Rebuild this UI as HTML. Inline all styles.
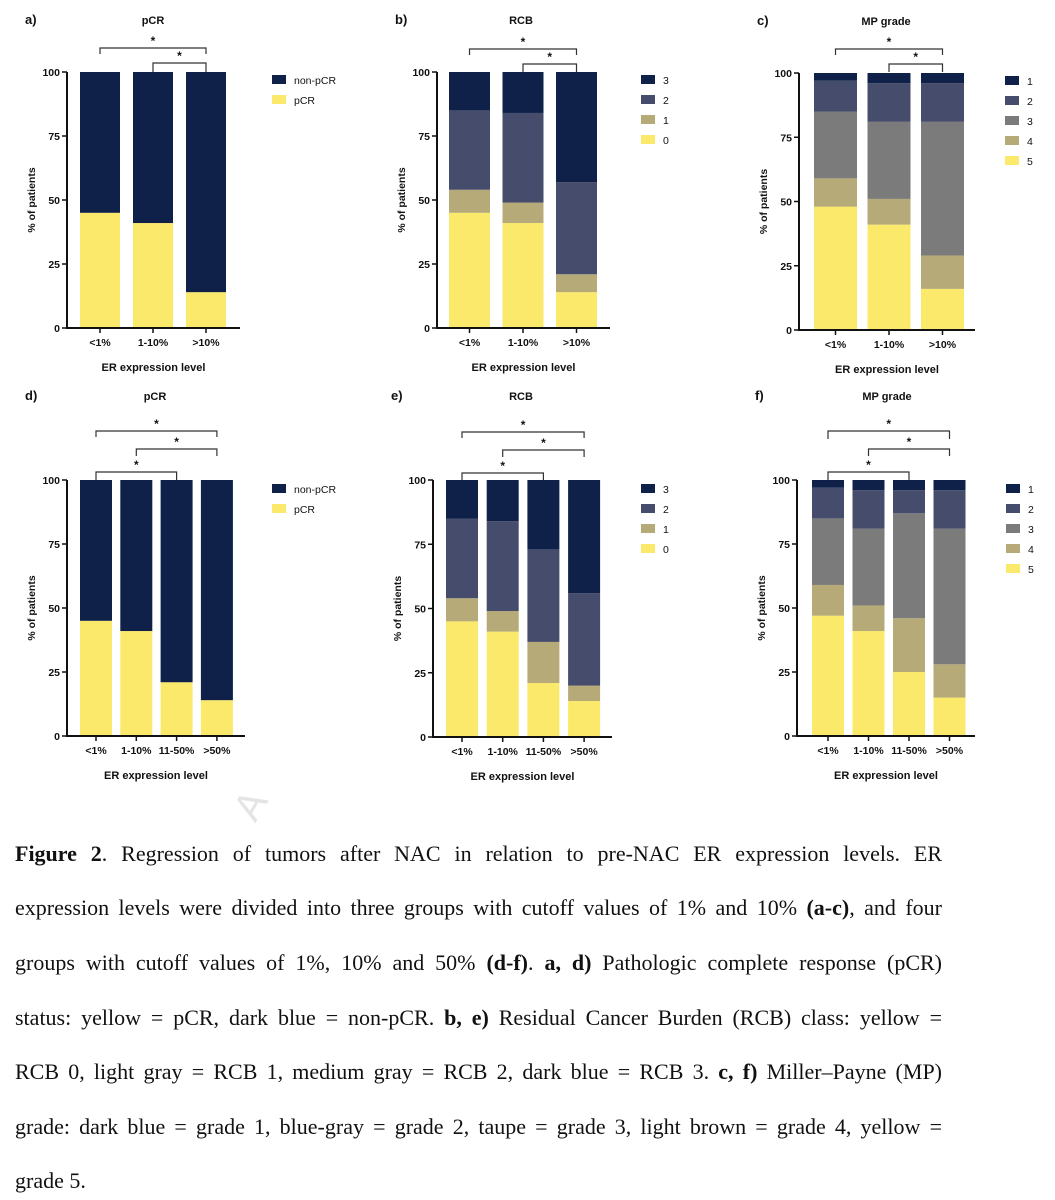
<!DOCTYPE html>
<html><head><meta charset="utf-8">
<style>
body{margin:0;width:1055px;height:1200px;background:#fff;overflow:hidden;position:relative;font-family:"Liberation Sans",sans-serif}
svg{position:absolute;left:0;top:0}
.cap{position:absolute;left:15px;width:927px;font-family:"Liberation Serif",serif;font-size:22px;color:#111;text-align:justify;text-align-last:justify;white-space:nowrap;line-height:26px}
.cap.last{text-align-last:left}
</style></head><body>
<svg id="fig" width="1055" height="1200"></svg>
<div>
<div class="cap" style="top:841px;white-space:normal"><b>Figure 2</b>. Regression of tumors after NAC in relation to pre-NAC ER expression levels. ER</div>
<div class="cap" style="top:895px;white-space:normal">expression levels were divided into three groups with cutoff values of 1% and 10% <b>(a-c)</b>, and four</div>
<div class="cap" style="top:950px;white-space:normal">groups with cutoff values of 1%, 10% and 50% <b>(d-f)</b>. <b>a, d)</b> Pathologic complete response (pCR)</div>
<div class="cap" style="top:1005px;white-space:normal">status: yellow = pCR, dark blue = non-pCR. <b>b, e)</b> Residual Cancer Burden (RCB) class: yellow =</div>
<div class="cap" style="top:1059px;white-space:normal">RCB 0, light gray = RCB 1, medium gray = RCB 2, dark blue = RCB 3. <b>c, f)</b> Miller–Payne (MP)</div>
<div class="cap" style="top:1114px;white-space:normal">grade: dark blue = grade 1, blue-gray = grade 2, taupe = grade 3, light brown = grade 4, yellow =</div>
<div class="cap last" style="top:1168px">grade 5.</div>
</div>
<script>
// ---- data (percent per segment, bottom to top) ----
const cats3 = ["<1%","1-10%",">10%"];
const cats4 = ["<1%","1-10%","11-50%",">50%"];
const yTicks = [0,25,50,75,100];
const pcrNames = ["pCR","non-pCR"];
const rcbNames = ["0","1","2","3"];
const mpNames = ["5","4","3","2","1"];
const aPCR = [45,41,14];
const aNon = [55,59,86];
const bR0 = [45,41,14];
const bR1 = [9,8,7];
const bR2 = [31,35,36];
const bR3 = [15,16,43];
const cG5 = [48,41,16];
const cG4 = [11,10,13];
const cG3 = [26,30,52];
const cG2 = [12,15,15];
const cG1 = [3,4,4];
const dPCR = [45,41,21,14];
const dNon = [55,59,79,86];
const eR0 = [45,41,21,14];
const eR1 = [9,8,16,6];
const eR2 = [31,35,36,36];
const eR3 = [15,16,27,44];
const fG5 = [47,41,25,15];
const fG4 = [12,10,21,13];
const fG3 = [26,30,41,53];
const fG2 = [12,15,9,15];
const fG1 = [3,4,4,4];

const NAVY="#0f2149", BG="#464c6b", GR="#7b7b7b", TP="#b6ab78", YL="#fbe96b";
const svg=document.getElementById('fig');
const NS="http://www.w3.org/2000/svg";
function mk(tag,attrs,parent){const e=document.createElementNS(NS,tag);for(const k in attrs)e.setAttribute(k,attrs[k]);(parent||svg).appendChild(e);return e;}
function txt(x,y,s,size,weight,anchor,parent){const t=mk('text',{x:x,y:y,'font-size':size,'font-weight':weight||'bold','text-anchor':anchor||'middle',fill:'#111'},parent);t.textContent=s;return t;}

function panel(p){
  const g=mk('g',{});
  
  
  const y=v=>p.y0+(p.y100-p.y0)*v/100;
  const xc=i=>p.bx0+i*p.step+p.bw/2;
  p.cats.forEach((c,i)=>{
    let acc=0;
    p.series.forEach((s,k)=>{
      const v=s[i];
      const r=mk('rect',{x:p.bx0+i*p.step,y:y(acc+v),width:p.bw,height:y(acc)-y(acc+v),fill:p.colors[k]},g);
      
      
      acc+=v;
    });
    mk('line',{x1:xc(i),x2:xc(i),y1:p.y0,y2:p.y0+5,stroke:'#111','stroke-width':1.5},g);
    const lb=txt(xc(i),p.y0+18,c,10.5,'bold','middle',g);
    
    
  });
  const ax=mk('line',{x1:p.ax,x2:p.ax,y1:y(100),y2:p.y0+1,stroke:'#111','stroke-width':2},g);
  
  
  const xa=mk('line',{x1:p.ax,x2:p.axEnd,y1:p.y0,y2:p.y0,stroke:'#111','stroke-width':2},g);
  
  
  yTicks.forEach(v=>{
    mk('line',{x1:p.ax-5,x2:p.ax,y1:y(v),y2:y(v),stroke:'#111','stroke-width':1.5},g);
    const t=txt(p.ax-7,y(v)+4,String(v),10.5,'bold','end',g);
    
    
  });
  const yt=txt(0,0,'% of patients',10.5,'bold','middle',g);
  yt.setAttribute('transform','translate('+(p.ax-32)+','+((y(0)+y(100))/2)+') rotate(-90)');
  
  
  const xt=txt((p.ax+p.axEnd)/2,p.y0+43,'ER expression level',11,'bold','middle',g);
  
  
  const ti=txt(p.titleX,p.y100-48-(p.extraTop||0),p.title,11,'bold','middle',g);
  
  
  const lt=txt(p.ax-42,p.y100-48-(p.extraTop||0),p.id+')',13,'bold','start',g);
  
  
  p.brackets.forEach(b=>{
    const x1=xc(b[0]),x2=xc(b[1]),by=b[2];
    const legs=b[3];
    mk('path',{d:'M'+x1+','+(by+legs[0])+'V'+by+'H'+x2+'V'+(by+legs[1]),fill:'none',stroke:'#333','stroke-width':1.2},g);
    const st=txt((x1+x2)/2,by-3,'*',12,'bold','middle',g);
    
    
  });
  const ln=p.names.slice().reverse(), lc=p.colors.slice().reverse();
  ln.forEach((nm,k)=>{
    const ly=p.legY+k*20;
    const r=mk('rect',{x:p.legX,y:ly-5,width:14,height:9,fill:lc[k]},g);
    
    
    const t=txt(p.legX+22,ly+4,nm,10.5,'normal','start',g);
    
    
  });
}

panel({id:'a',title:'pCR',titleX:153,cats:cats3,series:[aPCR,aNon],names:pcrNames,colors:[YL,NAVY],
  ax:67,axEnd:240,y0:328,y100:72,bx0:80,bw:40,step:53,
  brackets:[[0,2,48,[6,6]],[1,2,63,[9,9]]],legX:272,legY:80});
panel({id:'b',title:'RCB',titleX:521,cats:cats3,series:[bR0,bR1,bR2,bR3],names:rcbNames,colors:[YL,TP,BG,NAVY],
  ax:437,axEnd:610,y0:328,y100:72,bx0:449,bw:41,step:53.5,
  brackets:[[0,2,49,[6,6]],[1,2,64,[8,8]]],legX:641,legY:80});
panel({id:'c',title:'MP grade',titleX:886,cats:cats3,series:[cG5,cG4,cG3,cG2,cG1],names:mpNames,colors:[YL,TP,GR,BG,NAVY],
  ax:799,axEnd:975,y0:330,y100:73,bx0:814,bw:43,step:53.5,
  brackets:[[0,2,49,[6,6]],[1,2,64,[8,8]]],legX:1005,legY:81});
panel({id:'d',title:'pCR',titleX:155,cats:cats4,series:[dPCR,dNon],names:pcrNames,colors:[YL,NAVY],
  ax:67,axEnd:245,y0:736,y100:480,bx0:80,bw:32,step:40.3,extraTop:32,
  brackets:[[0,3,431,[6,6]],[1,3,449,[7,7]],[0,2,472,[8,8]]],legX:272,legY:489});
panel({id:'e',title:'RCB',titleX:521,cats:cats4,series:[eR0,eR1,eR2,eR3],names:rcbNames,colors:[YL,TP,BG,NAVY],
  ax:433,axEnd:612,y0:737,y100:480,bx0:446,bw:32,step:40.7,extraTop:32,
  brackets:[[0,3,432,[6,6]],[1,3,450,[7,7]],[0,2,473,[7,7]]],legX:641,legY:489});
panel({id:'f',title:'MP grade',titleX:887,cats:cats4,series:[fG5,fG4,fG3,fG2,fG1],names:mpNames,colors:[YL,TP,GR,BG,NAVY],
  ax:797,axEnd:975,y0:736,y100:480,bx0:812,bw:32,step:40.5,extraTop:32,
  brackets:[[0,3,431,[8,8]],[1,3,449,[7,7]],[0,2,472,[8,8]]],legX:1006,legY:489});
const wm=txt(0,0,'A',40,'normal','middle');
wm.setAttribute('transform','translate(262,812) rotate(-60)');
wm.setAttribute('fill','#e4e4e4');


</script>
</body></html>
